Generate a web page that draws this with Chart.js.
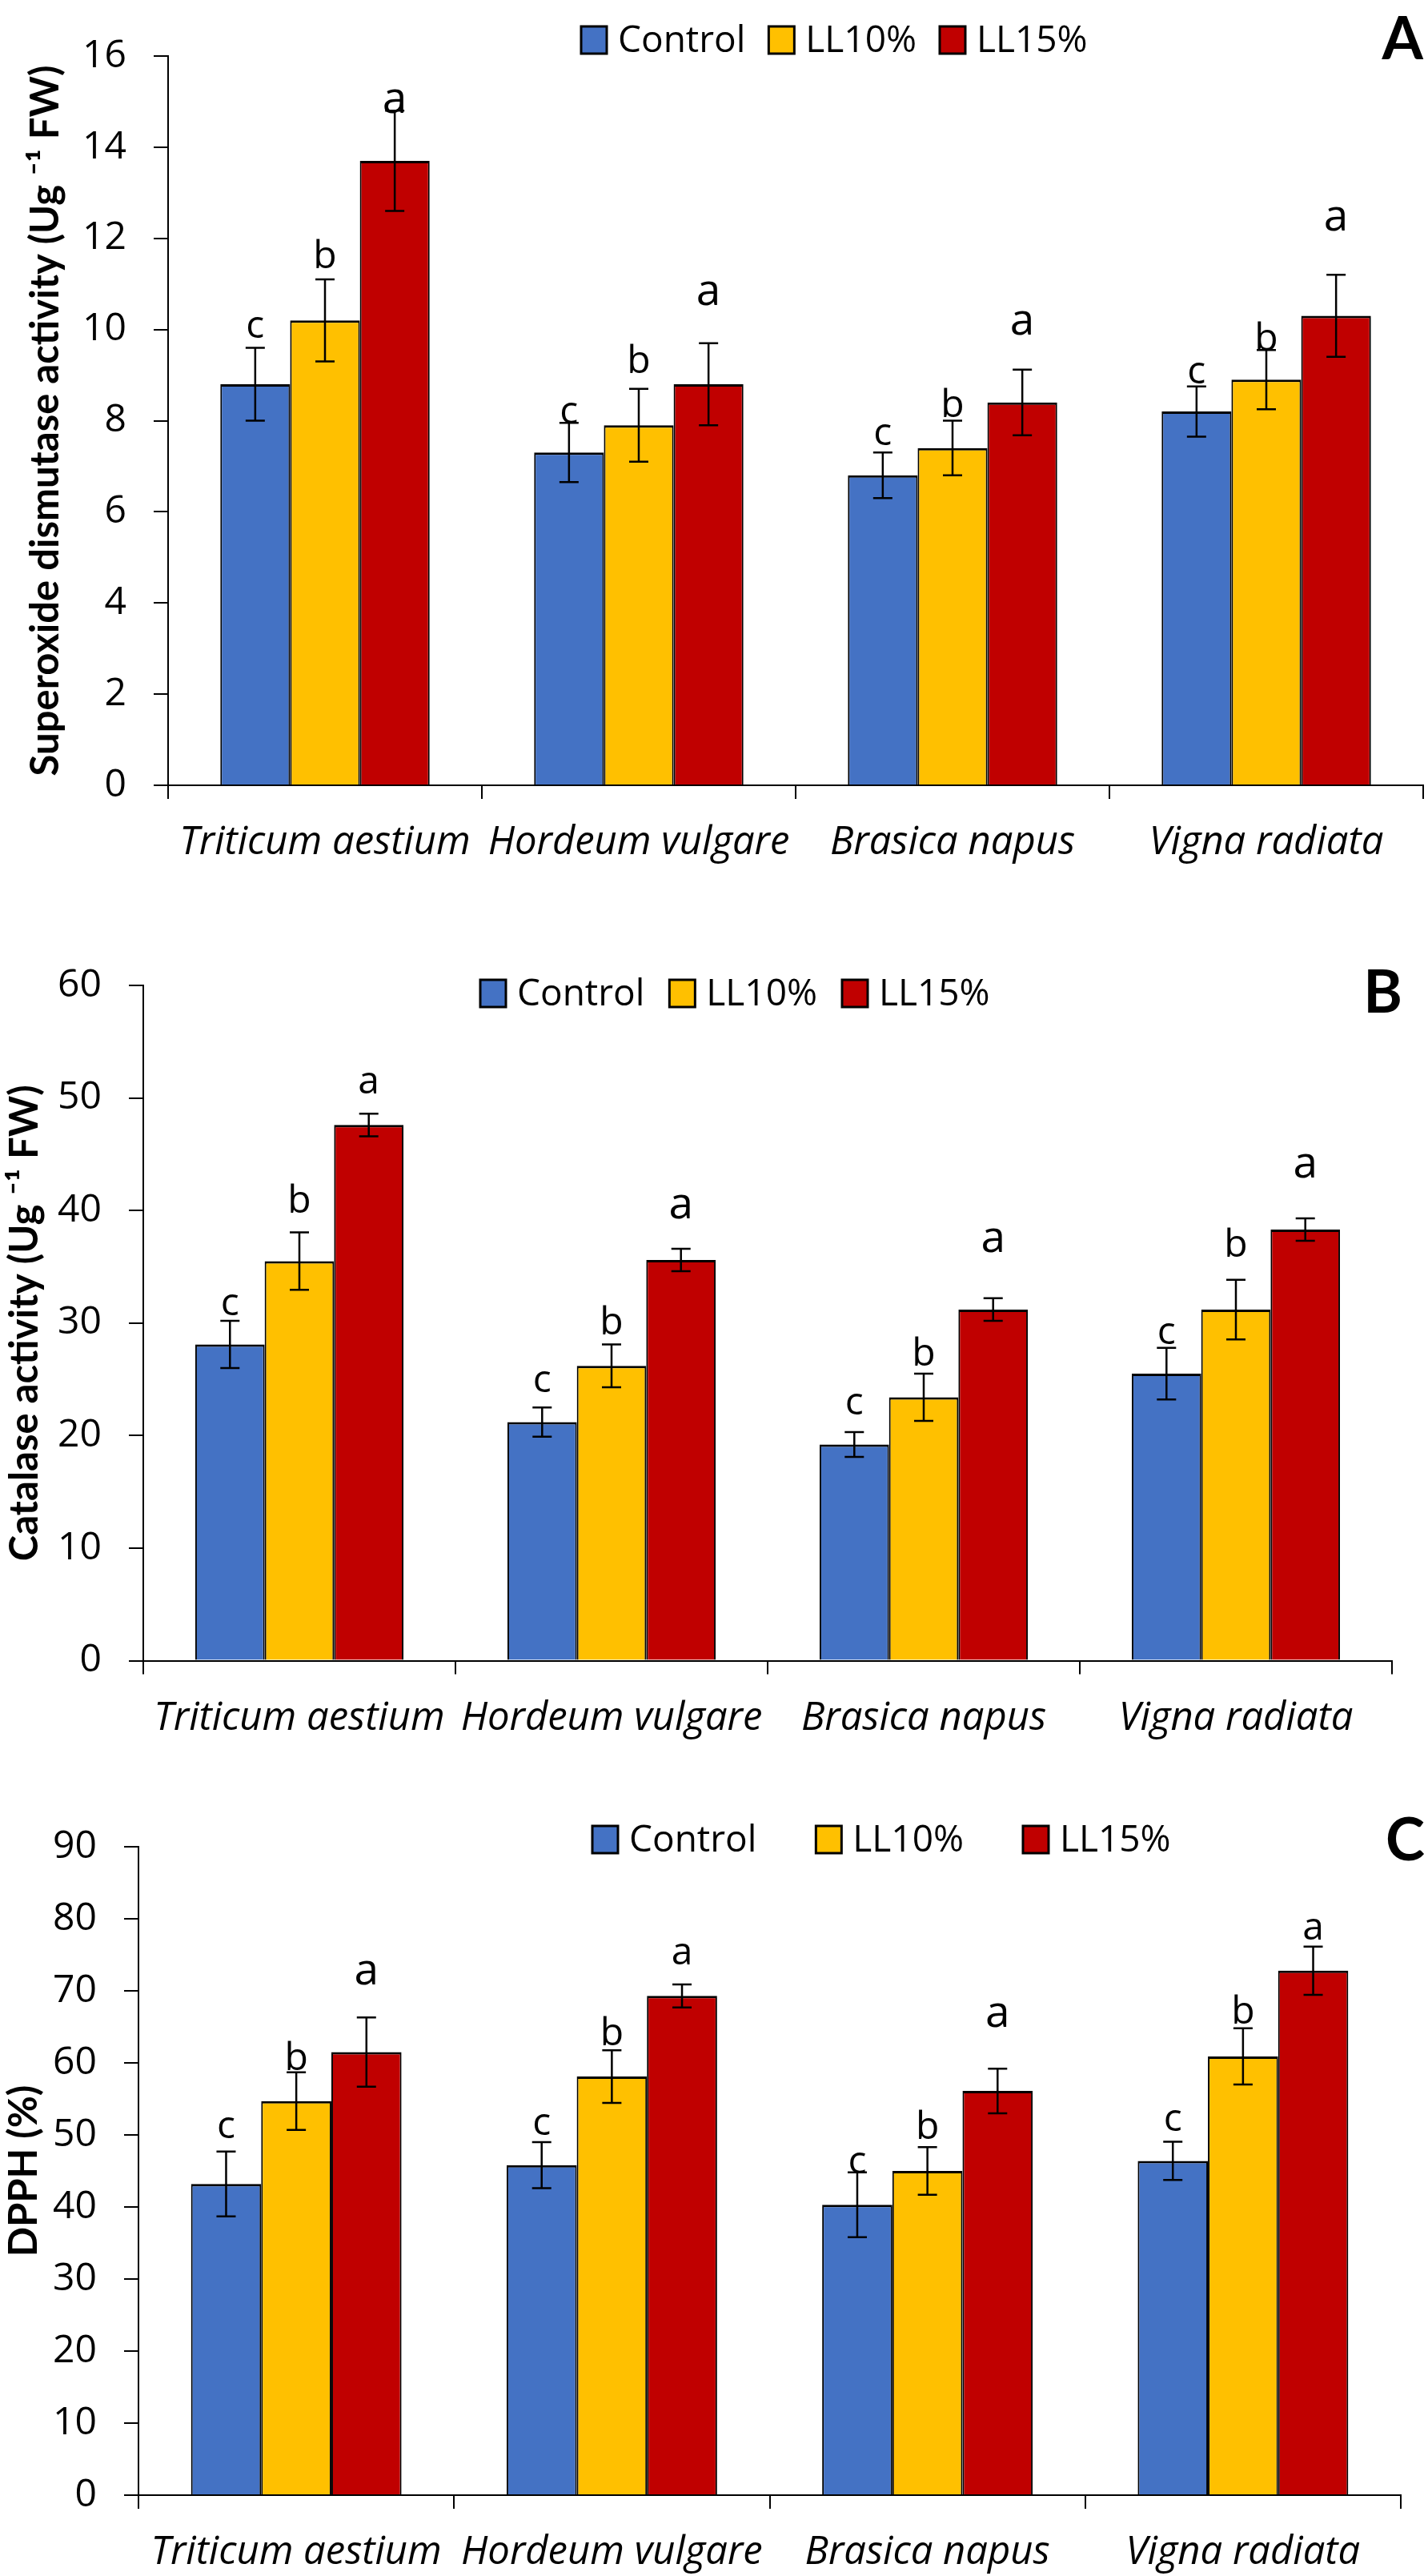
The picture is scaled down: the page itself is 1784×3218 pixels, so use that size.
<!DOCTYPE html>
<html>
<head>
<meta charset="utf-8">
<script src="https://cdn.jsdelivr.net/npm/chart.js@4.4.1/dist/chart.umd.min.js"></script>
<style>
  html, body { margin: 0; padding: 0; background: #fff; }
  body { width: 1784px; height: 3218px; position: relative; overflow: hidden; }
  canvas { position: absolute; left: 0; }
</style>
</head>
<body>
<canvas id="chartA" width="1784" height="1110" style="top:0px"></canvas>
<canvas id="chartB" width="1784" height="1070" style="top:1110px"></canvas>
<canvas id="chartC" width="1784" height="1038" style="top:2180px"></canvas>
<script>
// categories and series
const categories = ['Triticum aestium', 'Hordeum vulgare', 'Brasica napus', 'Vigna radiata'];
const seriesNames = ['Control', 'LL10%', 'LL15%'];
const letters = ['c', 'b', 'a'];

// A - superoxide dismutase
const sodControl = [8.8, 7.3, 6.8, 8.2];
const sodLL10 = [10.2, 7.9, 7.4, 8.9];
const sodLL15 = [13.7, 8.8, 8.4, 10.3];
const sodControlErr = [0.8, 0.65, 0.5, 0.55];
const sodLL10Err = [0.9, 0.8, 0.6, 0.65];
const sodLL15Err = [1.1, 0.9, 0.72, 0.9];
const sodLetterC = [9.82, 7.94, 7.47, 8.82];
const sodLetterB = [11.35, 9.04, 8.08, 9.53];
const sodLetterA = [14.76, 10.53, 9.88, 12.18];
const sodTicks = [0, 2, 4, 6, 8, 10, 12, 14, 16];

// B - catalase
const catControl = [28.1, 21.2, 19.2, 25.5];
const catLL10 = [35.5, 26.2, 23.4, 31.2];
const catLL15 = [47.6, 35.6, 31.2, 38.3];
const catControlErr = [2.1, 1.3, 1.1, 2.3];
const catLL10Err = [2.55, 1.9, 2.1, 2.65];
const catLL15Err = [1.0, 1.0, 1.0, 1.0];
const catLetterC = [30.7, 23.9, 21.9, 28.1];
const catLetterB = [39.8, 29.0, 26.2, 35.9];
const catLetterA = [50.4, 39.3, 36.3, 42.9];
const catTicks = [0, 10, 20, 30, 40, 50, 60];

// C - DPPH
const dpphControl = [43.2, 45.8, 40.3, 46.4];
const dpphLL10 = [54.7, 58.1, 45.0, 60.9];
const dpphLL15 = [61.5, 69.3, 56.1, 72.8];
const dpphControlErr = [4.5, 3.2, 4.5, 2.65];
const dpphLL10Err = [4.0, 3.65, 3.3, 3.9];
const dpphLL15Err = [4.8, 1.6, 3.1, 3.35];
const dpphLetterC = [49.6, 50.0, 44.7, 50.6];
const dpphLetterB = [59.0, 62.5, 49.4, 65.4];
const dpphLetterA = [70.9, 73.7, 65.0, 77.1];
const dpphTicks = [0, 10, 20, 30, 40, 50, 60, 70, 80, 90];

const colors = ['#4472C4', '#FFC000', '#C00000'];
const tickFont = '"Open Sans", sans-serif';
const titleFont = 'Lato, "Open Sans", sans-serif';

// error bars, letters, legend and panel tag
const annotate = {
  id: 'annotate',
  afterDatasetsDraw(chart, args, o) {
    const ctx = chart.ctx;
    const y = chart.scales.y;
    ctx.save();
    chart.data.datasets.forEach((ds, i) => {
      chart.getDatasetMeta(i).data.forEach((bar, j) => {
        const v = ds.data[j];
        const e = o.errors[i][j];
        const top = y.getPixelForValue(v + e);
        const bot = y.getPixelForValue(v - e);
        ctx.strokeStyle = '#000';
        ctx.lineWidth = 2.5;
        ctx.beginPath();
        ctx.moveTo(bar.x, top); ctx.lineTo(bar.x, bot);
        ctx.moveTo(bar.x - 12, top); ctx.lineTo(bar.x + 12, top);
        ctx.moveTo(bar.x - 12, bot); ctx.lineTo(bar.x + 12, bot);
        ctx.stroke();

        const big = i === 2 && o.bigA.includes(j);
        ctx.font = (big ? 55 : 48) + 'px ' + tickFont;
        ctx.fillStyle = '#000';
        ctx.textAlign = 'center';
        ctx.textBaseline = 'alphabetic';
        ctx.fillText(letters[i], bar.x, y.getPixelForValue(o.letterY[i][j]));
      });
    });

    // legend
    ctx.font = '46px ' + tickFont;
    ctx.textBaseline = 'middle';
    ctx.textAlign = 'left';
    let x = o.legendX;
    chart.data.datasets.forEach((ds) => {
      ctx.fillStyle = ds.backgroundColor;
      ctx.fillRect(x, o.legendY - 17, 32, 34);
      ctx.lineWidth = 3;
      ctx.strokeStyle = '#000';
      ctx.strokeRect(x, o.legendY - 17, 32, 34);
      ctx.fillStyle = '#000';
      ctx.fillText(ds.label, x + 46, o.legendY + 2);
      x += 46 + ctx.measureText(ds.label).width + o.legendGap;
    });

    // panel tag
    ctx.font = 'bold 74px ' + titleFont;
    ctx.textAlign = 'right';
    ctx.fillText(o.tag, o.tagX, o.tagY);
    ctx.restore();
  }
};

function makeChart(id, p) {
  const canvas = document.getElementById(id);
  return new Chart(canvas, {
    type: 'bar',
    data: {
      labels: categories,
      datasets: p.values.map((vals, i) => ({
        label: seriesNames[i],
        data: vals,
        backgroundColor: colors[i],
        borderColor: '#000',
        borderWidth: { top: 3, left: 2, right: 2, bottom: 0 },
        borderSkipped: false,
        categoryPercentage: 0.667,
        barPercentage: 1.0
      }))
    },
    options: {
      responsive: false,
      animation: false,
      devicePixelRatio: 1,
      layout: { padding: { left: 0, top: p.top, right: 1784 - p.right, bottom: 0 } },
      plugins: {
        legend: { display: false },
        tooltip: { enabled: false },
        annotate: p.annot
      },
      scales: {
        x: {
          grid: { offset: true, drawOnChartArea: false, drawTicks: true, tickLength: 17, color: '#000', lineWidth: 2 },
          border: { display: true, color: '#000', width: 2 },
          ticks: { color: '#000', padding: 26, font: { family: tickFont, size: 49, style: 'italic' }, maxRotation: 0, autoSkip: false },
          afterFit(scale) { scale.height = canvas.height - p.bottom; }
        },
        y: {
          min: 0,
          max: p.ticks[p.ticks.length - 1],
          afterBuildTicks(scale) { scale.ticks = p.ticks.map(v => ({ value: v })); },
          grid: { drawOnChartArea: false, drawTicks: true, tickLength: 18, color: '#000', lineWidth: 2 },
          border: { display: true, color: '#000', width: 2 },
          ticks: { color: '#000', padding: 34, font: { family: tickFont, size: 48 } },
          title: {
            display: true,
            text: p.title,
            color: '#000',
            font: { family: titleFont, size: 49, weight: 'bold' },
            padding: { top: p.titlePad, bottom: 0 }
          },
          afterFit(scale) { scale.width = p.left; }
        }
      }
    },
    plugins: [annotate]
  });
}

makeChart('chartA', {
  values: [sodControl, sodLL10, sodLL15],
  ticks: sodTicks,
  title: 'Superoxide dismutase activity (Ug \u207B\u00B9 FW)',
  left: 210, right: 1778, top: 70, bottom: 981, titlePad: 28,
  annot: {
    errors: [sodControlErr, sodLL10Err, sodLL15Err],
    letterY: [sodLetterC, sodLetterB, sodLetterA],
    bigA: [0, 1, 2, 3],
    legendX: 726, legendY: 50, legendGap: 29,
    tag: 'A', tagX: 1778, tagY: 50
  }
});

makeChart('chartB', {
  values: [catControl, catLL10, catLL15],
  ticks: catTicks,
  title: 'Catalase activity (Ug \u207B\u00B9 FW)',
  left: 179, right: 1739, top: 121, bottom: 964.5, titlePad: 2,
  annot: {
    errors: [catControlErr, catLL10Err, catLL15Err],
    letterY: [catLetterC, catLetterB, catLetterA],
    bigA: [1, 2, 3],
    legendX: 600, legendY: 131, legendGap: 31,
    tag: 'B', tagX: 1752, tagY: 131
  }
});

makeChart('chartC', {
  values: [dpphControl, dpphLL10, dpphLL15],
  ticks: dpphTicks,
  title: 'DPPH (%)',
  left: 173, right: 1750, top: 127, bottom: 937, titlePad: 1,
  annot: {
    errors: [dpphControlErr, dpphLL10Err, dpphLL15Err],
    letterY: [dpphLetterC, dpphLetterB, dpphLetterA],
    bigA: [0, 2],
    legendX: 740, legendY: 118, legendGap: 74,
    tag: 'C', tagX: 1780, tagY: 120
  }
});
</script>
</body>
</html>
